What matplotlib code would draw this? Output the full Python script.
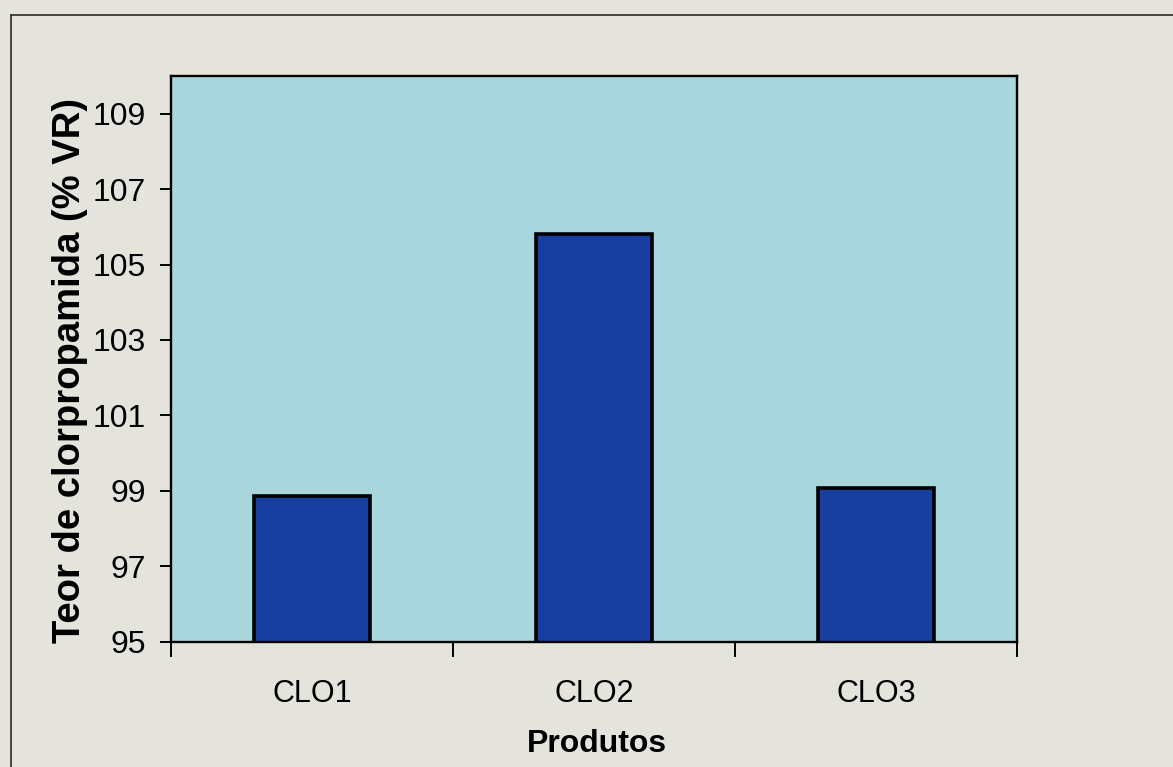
import matplotlib
matplotlib.use("Agg")
import matplotlib.pyplot as plt
from matplotlib.lines import Line2D

# Data
produtos = ["CLO1", "CLO2", "CLO3"]
teor = [98.86, 105.80, 99.08]
y_ticks = [95, 97, 99, 101, 103, 105, 107, 109]

plt.rcParams["font.family"] = ["Liberation Sans", "DejaVu Sans"]

fig = plt.figure(figsize=(11.73, 7.67), dpi=100, facecolor="#e4e3dc")
ax = fig.add_axes([0.1458, 0.1636, 0.867 - 0.1458, 0.9009 - 0.1636])
ax.set_facecolor("#a7d7dd")

x = list(range(len(produtos)))
ax.bar(x, teor, width=0.41, color="#183ea0", edgecolor="black", linewidth=2.6, zorder=2)

ax.set_xlim(-0.5, len(produtos) - 0.5)
ax.set_ylim(95, 110)
ax.set_yticks(y_ticks)
ax.set_yticklabels([str(v) for v in y_ticks])

# category labels on major ticks, boundary tick marks on minor ticks
ax.set_xticks(x)
ax.set_xticklabels(produtos)
ax.set_xticks([i - 0.5 for i in range(len(produtos) + 1)], minor=True)
ax.tick_params(axis="x", which="major", length=0, pad=27, labelsize=22)
ax.tick_params(axis="x", which="minor", length=11, width=1.4, direction="out")
ax.tick_params(axis="y", which="major", length=8, width=1.4, direction="out",
               pad=10, labelsize=23)

for s in ax.spines.values():
    s.set_linewidth(1.7)
    s.set_color("black")

ax.set_ylabel("Teor de clorpropamida (% VR)", fontsize=27.5, fontweight="bold", va="center")
ax.yaxis.set_label_coords(-0.1195, 0.48)
ax.set_xlabel("Produtos", fontsize=23, fontweight="bold", va="center")
ax.xaxis.set_label_coords(0.5035, -0.182)

# outer chart frame
fig.add_artist(Line2D([11 / 1173, 1.0], [1 - 15 / 767, 1 - 15 / 767],
                      transform=fig.transFigure, color="#2a2a2a", linewidth=1.2))
fig.add_artist(Line2D([11 / 1173, 11 / 1173], [0.0, 1 - 15 / 767],
                      transform=fig.transFigure, color="#2a2a2a", linewidth=1.2))

fig.savefig("out.png", dpi=100, facecolor=fig.get_facecolor())
